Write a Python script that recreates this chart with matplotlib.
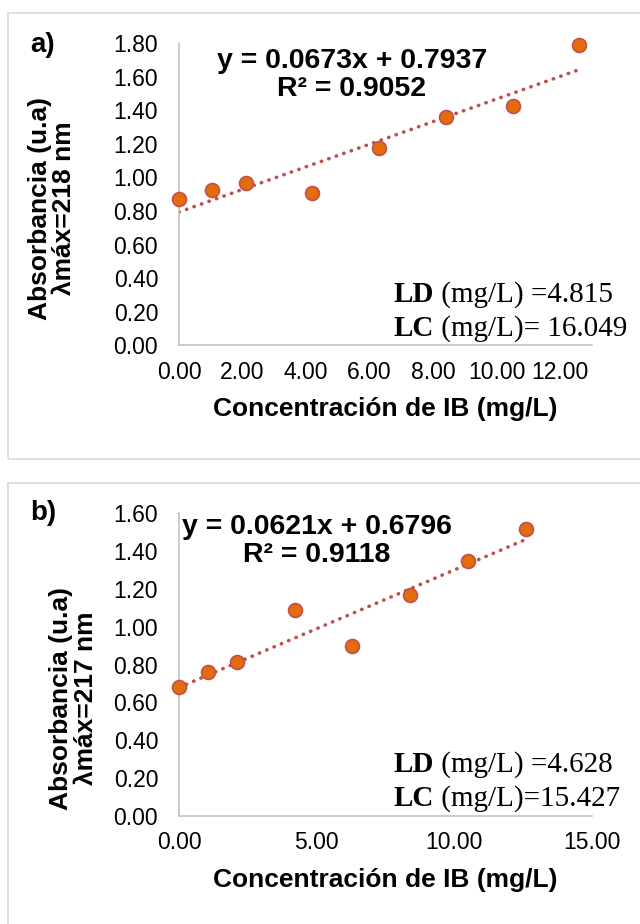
import matplotlib
matplotlib.use('Agg')
import matplotlib.pyplot as plt
from matplotlib.patches import Rectangle
import numpy as np

plt.rcParams['font.family'] = ['Liberation Sans', 'DejaVu Sans']

# datos
conc = [0, 1.05, 2.1, 4.2, 6.3, 8.4, 10.5, 12.6]
abs_a = [0.870, 0.925, 0.967, 0.904, 1.174, 1.362, 1.422, 1.788]
abs_b = [0.680, 0.763, 0.816, 1.089, 0.900, 1.170, 1.349, 1.515]

coef_a = (0.0673, 0.7937)  # pendiente, intercepto
coef_b = (0.0621, 0.6796)

eq_a = 'y = 0.0673x + 0.7937\nR² = 0.9052'
eq_b = 'y = 0.0621x + 0.6796\nR² = 0.9118'

ld_a = ' (mg/L) =4.815'
lc_a = ' (mg/L)= 16.049'
ld_b = ' (mg/L) =4.628'
lc_b = ' (mg/L)=15.427'

xticks_a = [0, 2, 4, 6, 8, 10, 12]
xticks_b = [0, 5, 10, 15]
yticks_a = [0, 0.2, 0.4, 0.6, 0.8, 1.0, 1.2, 1.4, 1.6, 1.8]
yticks_b = [0, 0.2, 0.4, 0.6, 0.8, 1.0, 1.2, 1.4, 1.6]

ylabel_a = 'Absorbancia (u.a)\nλmáx=218 nm'
ylabel_b = 'Absorbancia (u.a)\nλmáx=217 nm'
xlabel = 'Concentración de IB (mg/L)'

W, H = 640, 924
fig = plt.figure(figsize=(W / 100, H / 100), dpi=100)


def fx(x):
    return x / W


def fy(y):
    return 1 - y / H


def panel(top, bottom, xmax, xticks, yticks, y, coef, eq, eq_x, eq_y, ld, lc,
          lbl, lbl_y, ylab, ylab_x, ylab_y, box_top, box_bottom):
    # marco gris del panel
    fig.add_artist(Rectangle((fx(8), fy(box_bottom)), fx(660) - fx(8), fy(box_top) - fy(box_bottom),
                             transform=fig.transFigure, fill=False, ec='#D9D9D9', lw=1.2))

    ax = fig.add_axes([fx(179), fy(bottom), fx(592) - fx(179), fy(top) - fy(bottom)])
    ax.set_xlim(0, xmax)
    ax.set_ylim(yticks[0], yticks[-1])
    ax.set_xticks(xticks)
    ax.set_yticks(yticks)
    ax.xaxis.set_major_formatter('{x:.2f}')
    ax.yaxis.set_major_formatter('{x:.2f}')
    ax.tick_params(length=0, labelsize=16.5)
    ax.tick_params(axis='x', pad=11)
    ax.tick_params(axis='y', pad=15)
    for s in ['top', 'right']:
        ax.spines[s].set_visible(False)
    for s in ['left', 'bottom']:
        ax.spines[s].set_color('#BFBFBF')
        ax.spines[s].set_linewidth(1.1)

    # linea de tendencia
    xs = np.array([conc[0], conc[-1]])
    ax.plot(xs, coef[0] * xs + coef[1], color='#C0504D', lw=2.6,
            linestyle=(0, (0.1, 2.1)), dash_capstyle='round', zorder=2)
    ax.plot(conc, y, 'o', ms=10, mfc='#E46C0A', mec='#C0504D', mew=1.2,
            zorder=3, clip_on=False)

    ax.set_xlabel(xlabel, fontsize=19, fontweight='bold', labelpad=10)

    fig.text(fx(ylab_x), fy(ylab_y), ylab, rotation=90, ha='center', va='center',
             fontsize=19, fontweight='bold', linespacing=1.05)
    fig.text(fx(43), fy(lbl_y), lbl, ha='center', va='center', fontsize=20, fontweight='bold')
    fig.text(fx(eq_x), fy(eq_y), eq, ha='center', va='center', fontsize=20.5,
             fontweight='bold', linespacing=1.15)

    # LD y LC en Times
    for i, (name, rest) in enumerate([('LD', ld), ('LC', lc)]):
        t = fig.text(fx(394), fy(bottom - 43.5 + 34 * i), name, ha='left', va='baseline',
                     fontsize=21, fontweight='bold', family='Liberation Serif')
        ax.annotate(rest, xy=(1, 0), xycoords=t, ha='left', va='bottom',
                    fontsize=21, family='Liberation Serif', annotation_clip=False)
    return ax


panel(43, 345.3, 13, xticks_a, yticks_a, abs_a, coef_a, eq_a, 352, 75, ld_a, lc_a,
      'a)', 45, ylabel_a, 52, 208, 13, 459)
panel(513.3, 816, 15, xticks_b, yticks_b, abs_b, coef_b, eq_b, 317, 541, ld_b, lc_b,
      'b)', 513, ylabel_b, 73.5, 698, 483, 940)

plt.savefig('out.png', dpi=100)
